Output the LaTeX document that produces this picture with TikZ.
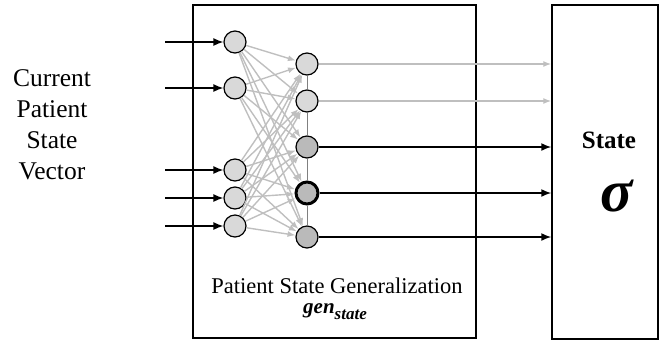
\documentclass[tikz,border=0pt]{standalone}
\usepackage{fontspec}
\setmainfont{Liberation Serif}
\usetikzlibrary{arrows.meta, positioning}

\begin{document}
\begin{tikzpicture}[
    x=1pt, y=-1pt,
    neuron/.style={circle, draw, line width=1.2pt, minimum size=22pt, inner sep=0pt},
    inneuron/.style={neuron, fill=black!15},
    outneuron/.style={neuron, fill=black!27},
    frame/.style={rectangle, draw, line width=1.5pt, inner sep=0pt},
    arr/.style={-{Latex[length=10pt, width=8pt]}, line width=1.5pt},
    garr/.style={-{Latex[length=8pt, width=6pt]}, line width=1.4pt, black!25},
    lbl/.style={font=\fontsize{25.5}{31}\selectfont, align=center}
]
\useasboundingbox (0,0) rectangle (660,341);

\node[frame, minimum width=283pt, minimum height=333pt] (genbox) at (334.5,171.5) {};
\node[frame, minimum width=106pt, minimum height=334pt] (statebox) at (605,172) {};

% input layer
\foreach \y [count=\i] in {42,88,170,198,226} {
  \node[inneuron] (in\i) at (235,\y) {};
  \coordinate (src\i) at (165,\y);
}

% generalized layer
\node[inneuron] (hid1) at (307,64) {};
\node[inneuron] (hid2) at (307,101) {};
\node[outneuron] (hid3) at (307,147) {};
\node[outneuron, line width=3pt] (hid4) at (307,193) {};
\node[outneuron] (hid5) at (307,237) {};

\foreach \i/\j in {1/2,2/3,3/4,4/5}
  \draw[black!50, line width=1pt] (hid\i) -- (hid\j);

\foreach \i in {1,...,5}
  \foreach \j in {1,...,5}
    \draw[garr] (in\i) -- (hid\j);

\foreach \i in {1,...,5}
  \draw[arr] (src\i) -- (in\i);

\foreach \i in {1,2}
  \draw[garr] (hid\i) -- (hid\i -| statebox.west);
\foreach \i in {3,4,5}
  \draw[arr] (hid\i) -- (hid\i -| statebox.west);

\node[lbl, anchor=base] (vec) at (52,179) {Current\\Patient\\State\\Vector};
\node[font=\fontsize{22.5}{27}\selectfont, anchor=base] (genlbl) at (337,293) {Patient State Generalization};
\node[font=\bfseries\itshape\fontsize{21}{25}\selectfont, anchor=base] (gensym) at (335,313)
  {gen\raisebox{-6pt}{\fontsize{17}{20}\selectfont state}};
\node[font=\bfseries\fontsize{25}{30}\selectfont, anchor=base] (statelbl) at (609,148) {State};
\node[font=\bfseries\itshape\fontsize{60}{66}\selectfont] (sigma) at (617,196) {σ};
\end{tikzpicture}
\end{document}
